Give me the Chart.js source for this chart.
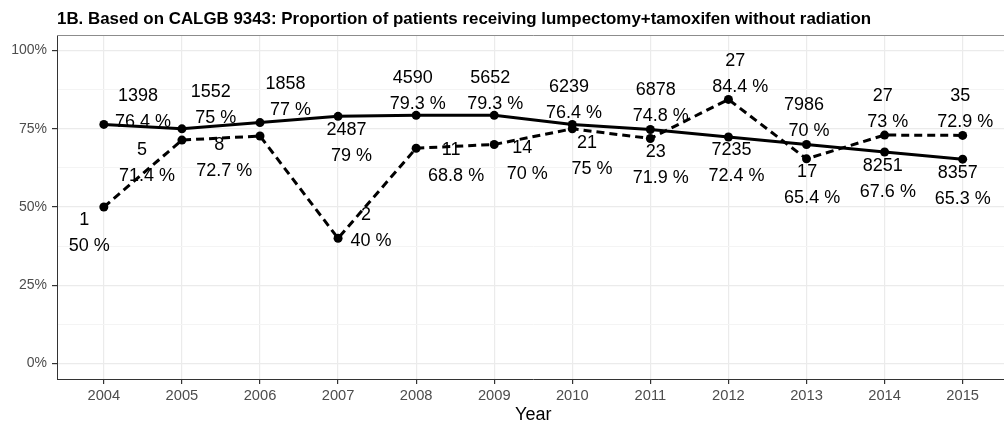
<!DOCTYPE html>
<html>
<head>
<meta charset="utf-8">
<script src="https://cdn.jsdelivr.net/npm/chart.js@4/dist/chart.umd.min.js"></script>
<style>
  html, body { margin: 0; padding: 0; background: #fff; overflow: hidden; }
  canvas { display: block; }
</style>
</head>
<body>
<canvas id="chart" width="1014" height="424"></canvas>
<script>
// data
const years = [2004, 2005, 2006, 2007, 2008, 2009, 2010, 2011, 2012, 2013, 2014, 2015];
const bigPct = [76.4, 75, 77, 79, 79.3, 79.3, 76.4, 74.8, 72.4, 70, 67.6, 65.3];
const bigN = [1398, 1552, 1858, 2487, 4590, 5652, 6239, 6878, 7235, 7986, 8251, 8357];
const smallPct = [50, 71.4, 72.7, 40, 68.8, 70, 75, 71.9, 84.4, 65.4, 73, 72.9];
const smallN = [1, 5, 8, 2, 11, 14, 21, 23, 27, 17, 27, 35];
const yTicks = [0, 12.5, 25, 37.5, 50, 62.5, 75, 87.5, 100];

// label nudges (in years / percent points) so the text sits like the original
const bigNudgeX = [0.47, 0.40, 0.36, 0.14, -0.01, -0.02, -0.01, 0.10, 0.07, 0.00, 0.01, -0.03];
const bigNudgeY = [4.8, 7.6, 8.3, -8.4, 7.9, 7.9, 7.9, 8.3, -8.5, 8.3, -8.8, -8.5];
const smallNudgeX = [-0.22, -0.48, -0.49, 0.39, 0.48, 0.39, 0.22, 0.10, 0.12, 0.04, 0.01, 0.00];
const smallNudgeY = [-8.4, -7.2, -7.2, 3.4, -4.8, -5.3, -8.7, -8.6, 8.0, -8.5, 8.2, 8.3];

const FONT = "'Liberation Sans', Arial, sans-serif";

function toPoints(vals) {
    return years.map((y, i) => ({ x: y, y: vals[i] }));
}

// count on top, percent below, drawn before the lines so lines cross them
const labelPlugin = {
    id: 'pointLabels',
    beforeDatasetsDraw(chart) {
        const ctx = chart.ctx;
        const xs = chart.scales.x, ys = chart.scales.y;
        const groups = [
            [bigN, bigPct, bigNudgeX, bigNudgeY],
            [smallN, smallPct, smallNudgeX, smallNudgeY]
        ];
        ctx.save();
        ctx.font = '18px ' + FONT;
        ctx.fillStyle = '#000';
        ctx.textAlign = 'center';
        ctx.textBaseline = 'middle';
        groups.forEach(([n, pct, nx, ny]) => {
            years.forEach((yr, i) => {
                const cx = xs.getPixelForValue(yr + nx[i]);
                const cy = ys.getPixelForValue(pct[i] + ny[i]);
                ctx.fillText(n[i] + ' ', cx, cy - 13);
                ctx.fillText(' ' + pct[i] + ' %', cx, cy + 13);
            });
        });
        ctx.restore();
    },
    afterDraw(chart) {
        const ctx = chart.ctx;
        const a = chart.chartArea;
        ctx.save();
        // top panel edge
        ctx.strokeStyle = '#8c8c8c';
        ctx.lineWidth = 1;
        ctx.beginPath();
        ctx.moveTo(a.left, a.top + 0.5);
        ctx.lineTo(a.right, a.top + 0.5);
        ctx.stroke();
        // title
        ctx.font = 'bold 16.9px ' + FONT;
        ctx.fillStyle = '#000';
        ctx.textAlign = 'left';
        ctx.textBaseline = 'middle';
        ctx.fillText('1B. Based on CALGB 9343: Proportion of patients receiving lumpectomy+tamoxifen without radiation', a.left, 19);
        ctx.restore();
    }
};

new Chart(document.getElementById('chart'), {
    type: 'line',
    data: {
        datasets: [
            {
                label: 'all',
                data: toPoints(bigPct),
                borderColor: '#000',
                backgroundColor: '#000',
                borderWidth: 3,
                pointRadius: 4.5,
                pointBorderWidth: 0,
                pointBackgroundColor: '#000',
                tension: 0
            },
            {
                label: 'trial',
                data: toPoints(smallPct),
                borderColor: '#000',
                backgroundColor: '#000',
                borderWidth: 3,
                borderDash: [8, 5],
                pointRadius: 4.5,
                pointBorderWidth: 0,
                pointBackgroundColor: '#000',
                tension: 0
            }
        ]
    },
    options: {
        responsive: false,
        animation: false,
        layout: { padding: { top: 35, right: 1, left: 0, bottom: 0 } },
        plugins: { legend: { display: false }, tooltip: { enabled: false }, title: { display: false } },
        scales: {
            x: {
                type: 'linear',
                min: 2003.4,
                max: 2015.6,
                afterBuildTicks: s => { s.ticks = years.map(v => ({ value: v })); },
                afterFit: s => { s.height = 45; },
                ticks: {
                    autoSkip: false,
                    maxRotation: 0,
                    padding: 3,
                    color: '#4d4d4d',
                    font: { family: FONT, size: 14.7 },
                    callback: v => String(v)
                },
                grid: { color: '#ebebeb', lineWidth: 1.2, tickColor: '#333', tickLength: 5 },
                border: { color: '#333', width: 1 },
                title: { display: true, text: 'Year', color: '#000', font: { family: FONT, size: 18, lineHeight: 1.05 }, padding: 0 }
            },
            y: {
                min: -5,
                max: 105,
                afterBuildTicks: s => { s.ticks = yTicks.map(v => ({ value: v })); },
                afterFit: s => { s.width = 57; },
                ticks: {
                    padding: 5,
                    color: '#4d4d4d',
                    font: { family: FONT, size: 14 },
                    callback: v => (v % 25 === 0 ? v + '%' : '')
                },
                grid: {
                    color: c => (c.tick && c.tick.value % 25 === 0 ? '#ebebeb' : '#f4f4f4'),
                    lineWidth: c => (c.tick && c.tick.value % 25 === 0 ? 1.2 : 1),
                    tickColor: c => (c.tick && c.tick.value % 25 === 0 ? '#333' : 'rgba(0,0,0,0)'),
                    tickLength: 5
                },
                border: { color: '#333', width: 1 }
            }
        }
    },
    plugins: [labelPlugin]
});
</script>
</body>
</html>
